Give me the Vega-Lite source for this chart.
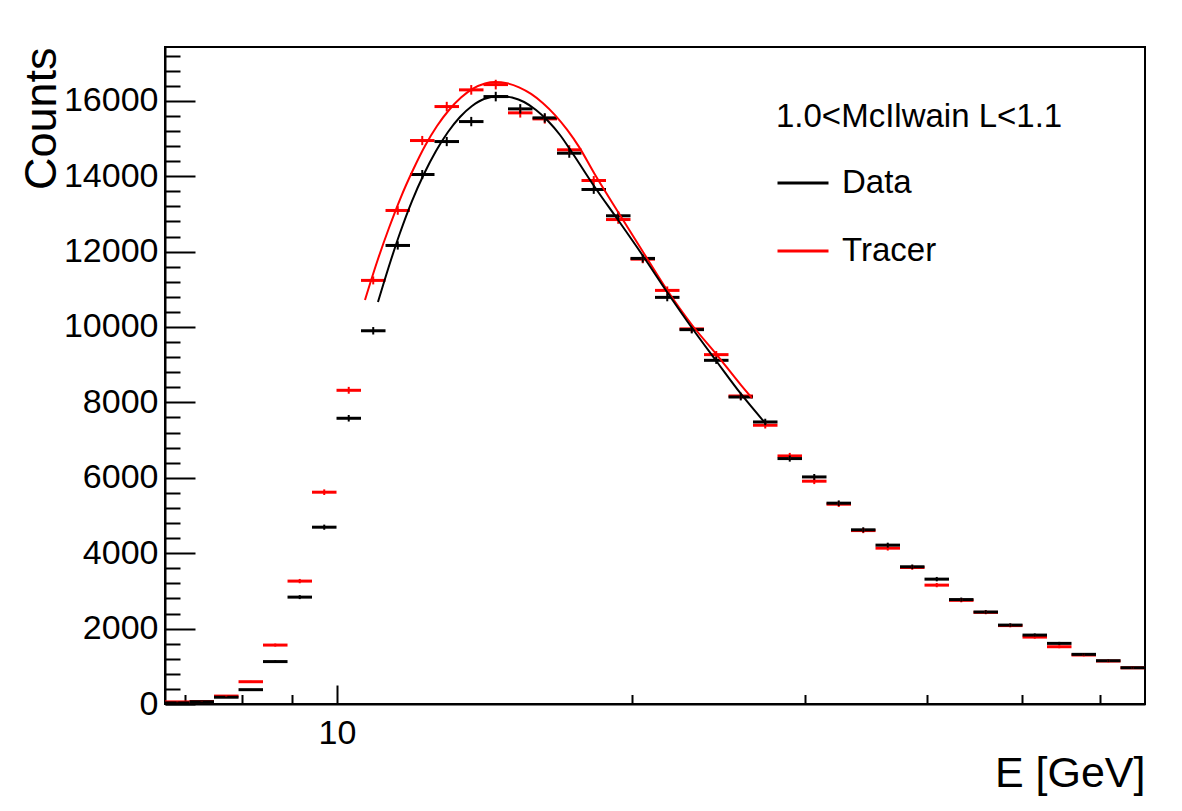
{
  "$schema": "https://vega.github.io/schema/vega-lite/v6.json",
  "width": 980,
  "height": 657,
  "autosize": {"type": "none"},
  "padding": {"left": 165, "top": 47, "right": 37, "bottom": 107},
  "background": "white",
  "config": {
    "font": "Liberation Sans",
    "view": {"stroke": "black", "strokeWidth": 2},
    "axis": {"grid": false, "domainColor": "black", "domainWidth": 2, "tickColor": "black", "tickWidth": 2, "labelColor": "black", "titleColor": "black", "labelFont": "Liberation Sans", "titleFont": "Liberation Sans"}
  },
  "resolve": {"axis": {"x": "independent", "y": "independent"}},
  "datasets": {
    "hist": [
      {"s":"Tracer","lo":6.676,"hi":7.072,"m":6.871,"c":55,"e":7},
      {"s":"Tracer","lo":7.072,"hi":7.491,"m":7.278,"c":65,"e":8},
      {"s":"Tracer","lo":7.491,"hi":7.935,"m":7.709,"c":210,"e":14},
      {"s":"Tracer","lo":7.935,"hi":8.405,"m":8.166,"c":591,"e":24},
      {"s":"Tracer","lo":8.405,"hi":8.903,"m":8.650,"c":1563,"e":40},
      {"s":"Tracer","lo":8.903,"hi":9.430,"m":9.162,"c":3260,"e":57},
      {"s":"Tracer","lo":9.430,"hi":9.989,"m":9.705,"c":5618,"e":75},
      {"s":"Tracer","lo":9.989,"hi":10.581,"m":10.280,"c":8321,"e":91},
      {"s":"Tracer","lo":10.581,"hi":11.208,"m":10.889,"c":11236,"e":106},
      {"s":"Tracer","lo":11.208,"hi":11.872,"m":11.535,"c":13091,"e":114},
      {"s":"Tracer","lo":11.872,"hi":12.575,"m":12.218,"c":14946,"e":122},
      {"s":"Tracer","lo":12.575,"hi":13.320,"m":12.942,"c":15847,"e":126},
      {"s":"Tracer","lo":13.320,"hi":14.109,"m":13.709,"c":16290,"e":128},
      {"s":"Tracer","lo":14.109,"hi":14.945,"m":14.521,"c":16430,"e":128},
      {"s":"Tracer","lo":14.945,"hi":15.831,"m":15.382,"c":15680,"e":125},
      {"s":"Tracer","lo":15.831,"hi":16.769,"m":16.293,"c":15520,"e":125},
      {"s":"Tracer","lo":16.769,"hi":17.762,"m":17.259,"c":14700,"e":121},
      {"s":"Tracer","lo":17.762,"hi":18.815,"m":18.281,"c":13886,"e":118},
      {"s":"Tracer","lo":18.815,"hi":19.930,"m":19.364,"c":12850,"e":113},
      {"s":"Tracer","lo":19.930,"hi":21.111,"m":20.512,"c":11800,"e":109},
      {"s":"Tracer","lo":21.111,"hi":22.361,"m":21.727,"c":10971,"e":105},
      {"s":"Tracer","lo":22.361,"hi":23.686,"m":23.014,"c":9950,"e":100},
      {"s":"Tracer","lo":23.686,"hi":25.090,"m":24.378,"c":9267,"e":96},
      {"s":"Tracer","lo":25.090,"hi":26.576,"m":25.823,"c":8170,"e":90},
      {"s":"Tracer","lo":26.576,"hi":28.151,"m":27.352,"c":7394,"e":86},
      {"s":"Tracer","lo":28.151,"hi":29.819,"m":28.973,"c":6580,"e":81},
      {"s":"Tracer","lo":29.819,"hi":31.586,"m":30.690,"c":5910,"e":77},
      {"s":"Tracer","lo":31.586,"hi":33.457,"m":32.508,"c":5300,"e":73},
      {"s":"Tracer","lo":33.457,"hi":35.440,"m":34.434,"c":4600,"e":68},
      {"s":"Tracer","lo":35.440,"hi":37.540,"m":36.475,"c":4134,"e":64},
      {"s":"Tracer","lo":37.540,"hi":39.764,"m":38.636,"c":3620,"e":60},
      {"s":"Tracer","lo":39.764,"hi":42.120,"m":40.925,"c":3153,"e":56},
      {"s":"Tracer","lo":42.120,"hi":44.616,"m":43.350,"c":2750,"e":52},
      {"s":"Tracer","lo":44.616,"hi":47.259,"m":45.919,"c":2430,"e":49},
      {"s":"Tracer","lo":47.259,"hi":50.059,"m":48.639,"c":2080,"e":46},
      {"s":"Tracer","lo":50.059,"hi":53.025,"m":51.521,"c":1775,"e":42},
      {"s":"Tracer","lo":53.025,"hi":56.167,"m":54.574,"c":1519,"e":39},
      {"s":"Tracer","lo":56.167,"hi":59.495,"m":57.808,"c":1300,"e":36},
      {"s":"Tracer","lo":59.495,"hi":63.020,"m":61.233,"c":1140,"e":34},
      {"s":"Tracer","lo":63.020,"hi":66.754,"m":64.861,"c":960,"e":31},
      {"s":"Data","lo":6.676,"hi":7.072,"m":6.871,"c":30,"e":5},
      {"s":"Data","lo":7.072,"hi":7.491,"m":7.278,"c":60,"e":8},
      {"s":"Data","lo":7.491,"hi":7.935,"m":7.709,"c":180,"e":13},
      {"s":"Data","lo":7.935,"hi":8.405,"m":8.166,"c":380,"e":19},
      {"s":"Data","lo":8.405,"hi":8.903,"m":8.650,"c":1125,"e":34},
      {"s":"Data","lo":8.903,"hi":9.430,"m":9.162,"c":2835,"e":53},
      {"s":"Data","lo":9.430,"hi":9.989,"m":9.705,"c":4690,"e":68},
      {"s":"Data","lo":9.989,"hi":10.581,"m":10.280,"c":7579,"e":87},
      {"s":"Data","lo":10.581,"hi":11.208,"m":10.889,"c":9900,"e":99},
      {"s":"Data","lo":11.208,"hi":11.872,"m":11.535,"c":12163,"e":110},
      {"s":"Data","lo":11.872,"hi":12.575,"m":12.218,"c":14045,"e":119},
      {"s":"Data","lo":12.575,"hi":13.320,"m":12.942,"c":14919,"e":122},
      {"s":"Data","lo":13.320,"hi":14.109,"m":13.709,"c":15449,"e":124},
      {"s":"Data","lo":14.109,"hi":14.945,"m":14.521,"c":16112,"e":127},
      {"s":"Data","lo":14.945,"hi":15.831,"m":15.382,"c":15786,"e":126},
      {"s":"Data","lo":15.831,"hi":16.769,"m":16.293,"c":15547,"e":125},
      {"s":"Data","lo":16.769,"hi":17.762,"m":17.259,"c":14610,"e":121},
      {"s":"Data","lo":17.762,"hi":18.815,"m":18.281,"c":13648,"e":117},
      {"s":"Data","lo":18.815,"hi":19.930,"m":19.364,"c":12950,"e":114},
      {"s":"Data","lo":19.930,"hi":21.111,"m":20.512,"c":11819,"e":109},
      {"s":"Data","lo":21.111,"hi":22.361,"m":21.727,"c":10786,"e":104},
      {"s":"Data","lo":22.361,"hi":23.686,"m":23.014,"c":9930,"e":100},
      {"s":"Data","lo":23.686,"hi":25.090,"m":24.378,"c":9116,"e":95},
      {"s":"Data","lo":25.090,"hi":26.576,"m":25.823,"c":8143,"e":90},
      {"s":"Data","lo":26.576,"hi":28.151,"m":27.352,"c":7481,"e":86},
      {"s":"Data","lo":28.151,"hi":29.819,"m":28.973,"c":6510,"e":81},
      {"s":"Data","lo":29.819,"hi":31.586,"m":30.690,"c":6023,"e":78},
      {"s":"Data","lo":31.586,"hi":33.457,"m":32.508,"c":5327,"e":73},
      {"s":"Data","lo":33.457,"hi":35.440,"m":34.434,"c":4620,"e":68},
      {"s":"Data","lo":35.440,"hi":37.540,"m":36.475,"c":4214,"e":65},
      {"s":"Data","lo":37.540,"hi":39.764,"m":38.636,"c":3640,"e":60},
      {"s":"Data","lo":39.764,"hi":42.120,"m":40.925,"c":3312,"e":58},
      {"s":"Data","lo":42.120,"hi":44.616,"m":43.350,"c":2770,"e":53},
      {"s":"Data","lo":44.616,"hi":47.259,"m":45.919,"c":2440,"e":49},
      {"s":"Data","lo":47.259,"hi":50.059,"m":48.639,"c":2093,"e":46},
      {"s":"Data","lo":50.059,"hi":53.025,"m":51.521,"c":1828,"e":43},
      {"s":"Data","lo":53.025,"hi":56.167,"m":54.574,"c":1608,"e":40},
      {"s":"Data","lo":56.167,"hi":59.495,"m":57.808,"c":1317,"e":36},
      {"s":"Data","lo":59.495,"hi":63.020,"m":61.233,"c":1148,"e":34},
      {"s":"Data","lo":63.020,"hi":66.754,"m":64.861,"c":962,"e":31}
    ],
    "fit": [
      {"s":"Tracer","E":10.680,"c":10716},
      {"s":"Tracer","E":10.986,"c":11724},
      {"s":"Tracer","E":11.299,"c":12626},
      {"s":"Tracer","E":11.622,"c":13448},
      {"s":"Tracer","E":11.955,"c":14164},
      {"s":"Tracer","E":12.296,"c":14801},
      {"s":"Tracer","E":12.649,"c":15331},
      {"s":"Tracer","E":13.011,"c":15756},
      {"s":"Tracer","E":13.383,"c":16087},
      {"s":"Tracer","E":13.765,"c":16324},
      {"s":"Tracer","E":14.160,"c":16461},
      {"s":"Tracer","E":14.497,"c":16499},
      {"s":"Tracer","E":14.911,"c":16464},
      {"s":"Tracer","E":15.338,"c":16358},
      {"s":"Tracer","E":15.778,"c":16183},
      {"s":"Tracer","E":16.227,"c":15936},
      {"s":"Tracer","E":16.692,"c":15621},
      {"s":"Tracer","E":17.170,"c":15233},
      {"s":"Tracer","E":17.659,"c":14777},
      {"s":"Tracer","E":18.293,"c":14085},
      {"s":"Tracer","E":19.356,"c":13050},
      {"s":"Tracer","E":20.526,"c":11989},
      {"s":"Tracer","E":21.716,"c":10981},
      {"s":"Tracer","E":23.029,"c":10053},
      {"s":"Tracer","E":24.422,"c":9257},
      {"s":"Tracer","E":25.838,"c":8461},
      {"s":"Tracer","E":26.515,"c":8117},
      {"s":"Data","E":11.011,"c":10663},
      {"s":"Data","E":11.326,"c":11698},
      {"s":"Data","E":11.595,"c":12493},
      {"s":"Data","E":11.927,"c":13342},
      {"s":"Data","E":12.268,"c":14058},
      {"s":"Data","E":12.619,"c":14668},
      {"s":"Data","E":12.980,"c":15172},
      {"s":"Data","E":13.351,"c":15570},
      {"s":"Data","E":13.733,"c":15862},
      {"s":"Data","E":14.125,"c":16048},
      {"s":"Data","E":14.669,"c":16127},
      {"s":"Data","E":15.089,"c":16085},
      {"s":"Data","E":15.521,"c":15968},
      {"s":"Data","E":15.963,"c":15756},
      {"s":"Data","E":16.419,"c":15464},
      {"s":"Data","E":16.889,"c":15093},
      {"s":"Data","E":17.372,"c":14629},
      {"s":"Data","E":18.293,"c":13740},
      {"s":"Data","E":19.356,"c":12838},
      {"s":"Data","E":20.526,"c":11883},
      {"s":"Data","E":21.716,"c":10928},
      {"s":"Data","E":23.029,"c":9973},
      {"s":"Data","E":24.422,"c":9072},
      {"s":"Data","E":25.838,"c":8223},
      {"s":"Data","E":27.400,"c":7427}
    ]
  },
  "layer": [
    {
      "data": {"name": "hist"},
      "mark": {"type": "rule", "strokeWidth": 3},
      "encoding": {
        "x": {"field": "lo", "type": "quantitative", "scale": {"type": "log", "domain": [6.676, 66.754], "nice": false},
              "axis": {"orient": "bottom", "values": [10], "tickSize": -19, "labelFontSize": 34, "labelPadding": 31, "title": "E [GeV]", "titleFontSize": 43, "titleFontWeight": "normal", "titleAnchor": "end", "titleAlign": "right", "titleBaseline": "alphabetic", "titleX": 980, "titleY": 82}},
        "x2": {"field": "hi"},
        "y": {"field": "c", "type": "quantitative", "scale": {"domain": [0, 17427], "nice": false, "zero": true},
              "axis": {"orient": "left", "values": [0, 2000, 4000, 6000, 8000, 10000, 12000, 14000, 16000], "format": "d", "tickSize": -30, "labelFontSize": 34, "labelPadding": 37, "title": "Counts", "titleFontSize": 45, "titleFontWeight": "normal", "titleAnchor": "end", "titleAlign": "right", "titleAngle": -90, "titleBaseline": "alphabetic", "titleX": -110, "titleY": 0}},
        "color": {"field": "s", "type": "nominal", "scale": {"domain": ["Data", "Tracer"], "range": ["#000000", "#ff0000"]},
                  "legend": {"title": "1.0<McIlwain L<1.1", "orient": "none", "legendX": 611, "legendY": 54, "padding": 0, "titleFontSize": 33, "titleFontWeight": "normal", "titleColor": "black", "titleFont": "Liberation Sans", "titleLimit": 1000, "labelLimit": 1000, "labelFont": "Liberation Sans", "labelFontSize": 33, "labelColor": "black", "symbolType": "stroke", "symbolSize": 2601, "symbolStrokeWidth": 3, "labelOffset": 12, "rowPadding": 24, "titlePadding": 22}}
      }
    },
    {
      "data": {"name": "hist"},
      "mark": {"type": "errorbar", "thickness": 2},
      "encoding": {
        "x": {"field": "m", "type": "quantitative", "axis": null},
        "y": {"field": "c", "type": "quantitative", "axis": null},
        "yError": {"field": "e"},
        "color": {"field": "s", "type": "nominal", "legend": null}
      }
    },
    {
      "data": {"name": "fit"},
      "mark": {"type": "line", "strokeWidth": 2, "interpolate": "monotone"},
      "encoding": {
        "x": {"field": "E", "type": "quantitative",
              "axis": {"orient": "bottom", "values": [7, 8, 9, 20, 30, 40, 50, 60], "tickSize": -9.5, "labels": false, "domain": false, "title": null}},
        "y": {"field": "c", "type": "quantitative",
              "axis": {"orient": "left", "values": [400, 800, 1200, 1600, 2400, 2800, 3200, 3600, 4400, 4800, 5200, 5600, 6400, 6800, 7200, 7600, 8400, 8800, 9200, 9600, 10400, 10800, 11200, 11600, 12400, 12800, 13200, 13600, 14400, 14800, 15200, 15600, 16400, 16800, 17200], "tickSize": -15, "labels": false, "domain": false, "title": null}},
        "color": {"field": "s", "type": "nominal", "legend": null},
        "order": {"field": "E", "type": "quantitative"}
      }
    }
  ]
}
